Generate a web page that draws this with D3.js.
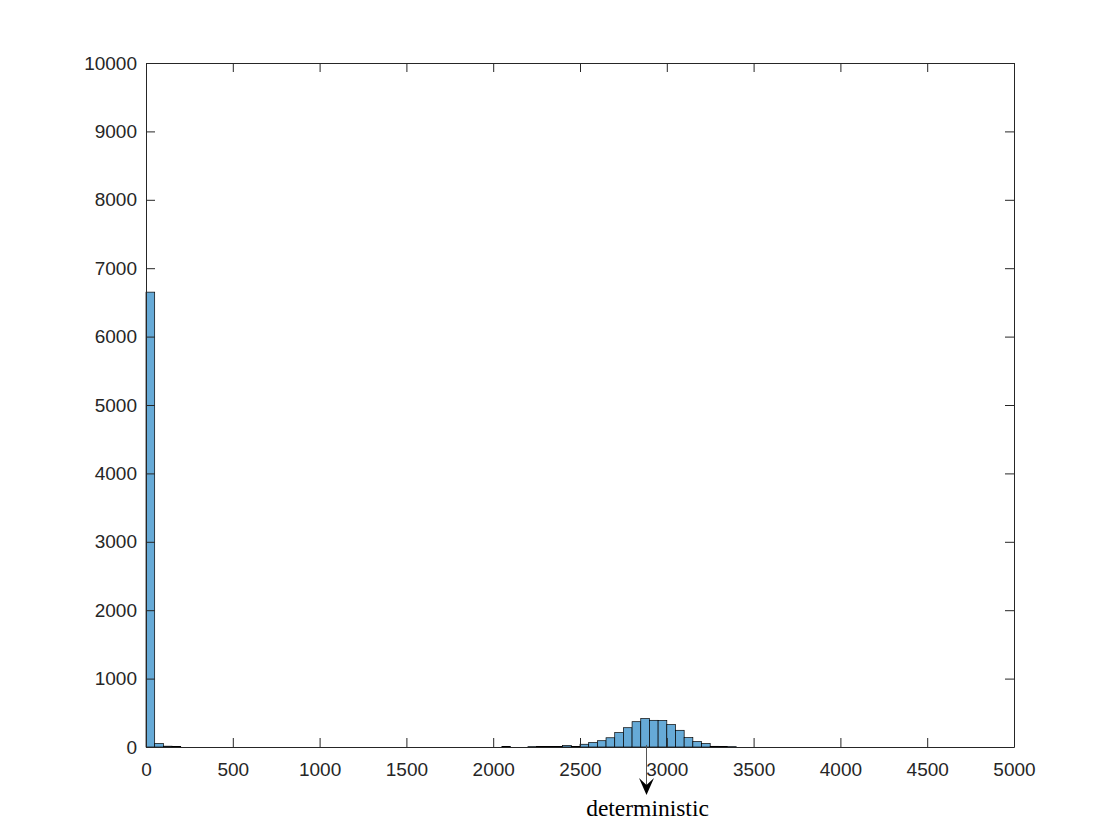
<!DOCTYPE html>
<html>
<head>
<meta charset="utf-8">
<script src="https://cdn.jsdelivr.net/npm/d3@7"></script>
<style>
   body { margin: 0; background: #fff; }
   .axis text { font-family: "Liberation Sans", Arial, sans-serif; font-size: 19px; fill: #262626; }
   .axis path, .axis line { stroke: #262626; }
</style>
</head>
<body>
<svg id="canvas"></svg>
<script>
// Histogram data: left edge of each non-empty bin and its count (bin width 50)
const binWidth = 50;
const binStarts = [0, 50, 100, 150, 2050, 2200, 2250, 2300, 2350, 2400, 2450,
                   2500, 2550, 2600, 2650, 2700, 2750, 2800, 2850, 2900, 2950,
                   3000, 3050, 3100, 3150, 3200, 3250, 3300, 3350];
const binCounts = [6650, 50, 12, 8, 8, 5, 6, 6, 7, 22, 8,
                   40, 65, 92, 135, 210, 282, 370, 415, 390, 388,
                   327, 244, 137, 79, 50, 10, 6, 5];
// Tick labels
const xTicks = [0, 500, 1000, 1500, 2000, 2500, 3000, 3500, 4000, 4500, 5000];
const yTicks = [0, 1000, 2000, 3000, 4000, 5000, 6000, 7000, 8000, 9000, 10000];
// Annotation
const noteX = 2880;
const noteText = "deterministic";

const plotHistogram = (svgElemId) => {
   const svgWidth = 1120;
   const svgHeight = 840;
   // Axes box (MATLAB style)
   const left = 146, right = 1014, top = 63, bottom = 747;
   const tickLen = 9;

   const svg = d3.select(svgElemId)
                 .attr("width", svgWidth)
                 .attr("height", svgHeight);

   const xScale = d3.scaleLinear().domain([0, 5000]).range([left, right]);
   const yScale = d3.scaleLinear().domain([0, 10000]).range([bottom, top]);

   // Bars
   const data = binStarts.map((s, i) => ({ start: s, count: binCounts[i] }));
   svg.append("g")
      .selectAll("rect")
      .data(data)
      .enter()
      .append("rect")
      .attr("x", (d) => xScale(d.start))
      .attr("y", (d) => yScale(d.count))
      .attr("width", (d) => xScale(d.start + binWidth) - xScale(d.start))
      .attr("height", (d) => yScale(0) - yScale(d.count))
      .attr("fill", "#66aad7")
      .attr("stroke", "#000")
      .attr("stroke-width", 0.7);

   // Bottom axis with labels, ticks pointing inward
   svg.append("g")
      .attr("class", "axis")
      .attr("transform", `translate(0, ${bottom})`)
      .call(d3.axisBottom(xScale).tickValues(xTicks).tickFormat(d3.format("d"))
              .tickSizeInner(-tickLen).tickSizeOuter(0).tickPadding(16));
   // Top axis, ticks only
   svg.append("g")
      .attr("class", "axis")
      .attr("transform", `translate(0, ${top})`)
      .call(d3.axisTop(xScale).tickValues(xTicks).tickFormat("")
              .tickSizeInner(-tickLen).tickSizeOuter(0));
   // Left axis with labels
   svg.append("g")
      .attr("class", "axis")
      .attr("transform", `translate(${left}, 0)`)
      .call(d3.axisLeft(yScale).tickValues(yTicks).tickFormat(d3.format("d"))
              .tickSizeInner(-tickLen).tickSizeOuter(0).tickPadding(9));
   // Right axis, ticks only
   svg.append("g")
      .attr("class", "axis")
      .attr("transform", `translate(${right}, 0)`)
      .call(d3.axisRight(yScale).tickValues(yTicks).tickFormat("")
              .tickSizeInner(-tickLen).tickSizeOuter(0));

   // Annotation arrow below the axis
   const ax = Math.round(xScale(noteX)) + 0.5;
   svg.append("line")
      .attr("x1", ax).attr("x2", ax)
      .attr("y1", yScale(30)).attr("y2", bottom + 40)
      .attr("stroke", "#555")
      .attr("stroke-width", 1);
   svg.append("path")
      .attr("d", `M${ax},${bottom + 48} L${ax - 7.5},${bottom + 31} L${ax},${bottom + 38} L${ax + 7.5},${bottom + 31} Z`)
      .attr("fill", "#000");
   svg.append("text")
      .attr("x", ax + 1)
      .attr("y", bottom + 69)
      .attr("text-anchor", "middle")
      .style("font-family", "'Liberation Serif', 'Times New Roman', serif")
      .style("font-size", "23.5px")
      .attr("fill", "#000")
      .text(noteText);
};

plotHistogram("#canvas");
</script>
</body>
</html>
